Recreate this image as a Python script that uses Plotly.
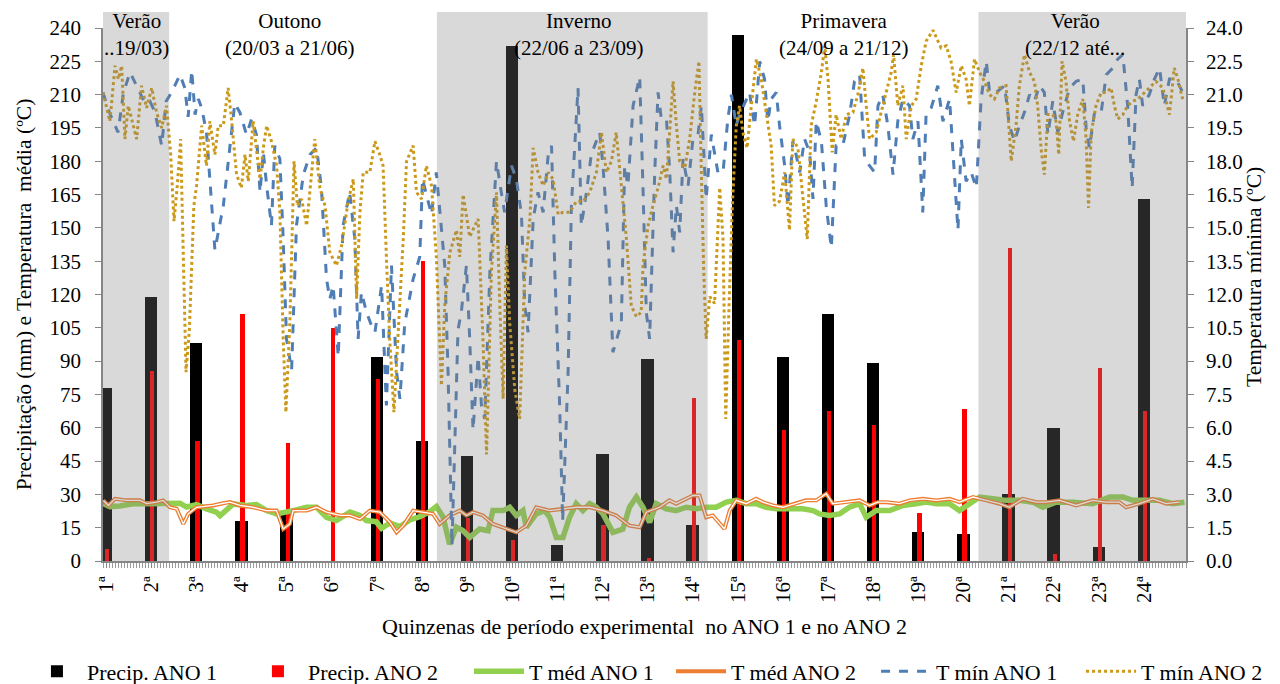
import plotly.graph_objects as go

# ---------------- DATA ----------------
quinzenas = [f"{i}ª" for i in range(1, 25)]
q_day = [1 + 15 * i for i in range(24)]  # day of each quinzena label

precip_ano1 = [78, 119, 98, 18, 22, 0, 92, 54, 47.5, 232, 7, 48, 91, 16,
               237, 92, 111, 89, 13, 12, 30, 60, 6.4, 163]
precip_ano2 = [5.5, 85.5, 54, 111, 53, 105, 82, 135, 19.4, 9.4, 0, 16, 1.5, 73.5,
               99.5, 59, 67.7, 61.4, 21.4, 68.6, 141, 3.3, 87, 67.4]

tmin1_day = [0, 1.8, 5, 6.8, 9, 11.2, 14, 15.6, 17.3, 19.5, 21, 22.8, 25.6, 27.2, 28.3, 29.5, 30.6, 31.7,
             32.8, 34.4, 37.2, 40, 42.2, 43.8, 45.5, 47.7, 49.4, 51, 52.2, 53.3, 54.4, 56, 57.1, 58.8,
             59.9, 61, 62.7, 64.3, 66.6, 68.8, 71, 72.6, 74.3, 75.4, 76.5, 78.2, 79.8, 82, 83.7, 84.8,
             85.9, 87.6, 89.8, 90.4, 92.6, 94.2, 95.9, 97.6, 98.7, 100.3, 103.1, 105.3, 106.2, 107.5,
             109.2, 110.8, 112.5, 113.6, 114.7, 116, 118, 119.1, 120.8, 121.9, 123, 124.7, 125.8, 126.9,
             128.6, 130.8, 132.4, 133.5, 135.8, 137.4, 139.1, 140.2, 141.3, 143, 144.6, 146.3, 148,
             149.1, 150.2, 151.8, 152.8, 154.6, 155.7, 157.9, 159, 160.7, 162.3, 165.1, 166.2, 167.9,
             169.5, 172.3, 173.4, 174.5, 176.2, 178.4, 179.5, 180.6, 181.7, 183.4, 184.5, 185.6, 187.3,
             188.4, 189.5, 190.6, 191.7, 192.8, 194.5, 196.1, 197.8, 198.9, 200.5, 202.2, 204.4, 206.1,
             207.7, 208.9, 210.5, 211.6, 214.9, 216.6, 218.3, 219.9, 221, 222.1, 223.8, 224.9, 226.6,
             227.7, 229.3, 230.4, 231.6, 233.2, 234.9, 236, 237.1, 238.8, 240.4, 242.1, 243.7, 245.9,
             248.2, 249.8, 251.5, 253.2, 254.8, 256.5, 257.6, 259.2, 260.9, 262.6, 264.2, 265.9, 268.1,
             269.2, 270.9, 272.5, 273.6, 275.3, 277.5, 279.2, 281.4, 283.1, 284.2, 285.3, 286.9, 288.6,
             290.3, 291.9, 293.6, 294.7, 296.9, 299.7, 301.3, 303, 304.6, 306.3, 308, 309.6, 311.3,
             312.9, 314.1, 315.7, 317.4, 319, 321.3, 323.5, 325.7, 326.8, 327.9, 329.6, 331.8, 333.5,
             335.7, 337.3, 339, 340.6, 342.1, 343.4, 344.5, 345.6, 347.8, 349.5, 351.2, 352.8, 354.5,
             356.7, 358.9]
tmin1_val = [21.1, 20.3, 19.3, 21.1, 22.0, 21.4, 20.6, 20.7, 20.2, 18.7, 20.7, 21.1, 21.9, 21.3, 20.0, 22.1,
             20.1, 20.8, 20.4, 19.3, 14.0, 16.0, 18.7, 20.6, 20.2, 19.2, 19.9, 19.2, 16.6, 18.4, 16.9,
             15.1, 18.7, 18.1, 14.5, 10.0, 8.6, 15.1, 17.4, 18.3, 18.6, 16.8, 12.7, 11.8, 12.4, 9.2,
             15.1, 16.6, 14.5, 10.0, 12.1, 11.2, 10.4, 10.3, 12.4, 7.0, 13.3, 8.5, 7.3, 10.7, 12.7,
             13.7, 17.2, 16.5, 15.6, 17.5, 15.1, 13.3, 8.5, 0.7, 10.4, 11.2, 13.3, 10.0, 5.9, 9.2, 7.0,
             6.4, 13.0, 18.0, 16.6, 15.7, 17.8, 17.2, 15.6, 11.5, 10.3, 15.4, 16.6, 15.7, 18.3, 18.7,
             13.0, 7.0, 1.8, 8.5, 16.0, 21.3, 15.1, 16.6, 18.3, 19.3, 17.8, 14.5, 9.4, 10.7, 17.8, 16.9,
             20.5, 21.8, 16.8, 11.2, 10.0, 17.5, 21.1, 19.9, 19.9, 17.5, 13.9, 16.0, 14.8, 18.1, 16.9,
             19.0, 19.2, 20.5, 16.3, 19.2, 17.5, 17.5, 19.9, 21.0, 19.6, 20.1, 21.1, 19.6, 22.5, 21.7,
             19.8, 20.8, 21.1, 19.6, 17.8, 16.0, 18.9, 18.3, 17.5, 19.0, 18.4, 16.3, 19.8, 18.9, 16.0,
             14.1, 18.7, 18.7, 20.1, 21.6, 21.9, 18.1, 17.8, 17.5, 20.5, 21.0, 19.6, 17.4, 19.8, 20.8,
             20.5, 19.0, 19.8, 15.7, 20.1, 20.4, 21.4, 19.8, 20.8, 17.5, 14.9, 19.0, 17.1, 17.5, 16.8,
             20.8, 22.5, 21.1, 21.1, 21.4, 19.6, 18.9, 19.6, 20.2, 21.0, 20.7, 21.4, 21.1, 19.2, 20.7,
             19.3, 20.2, 21.3, 21.6, 21.7, 19.5, 18.6, 20.2, 20.2, 21.9, 22.2, 22.6, 22.8, 20.5, 16.8,
             21.0, 21.7, 20.5, 21.0, 21.7, 22.2, 20.5, 21.7, 21.7, 21.1]

tmin2_day = [0, 2.3, 4, 5.1, 6.2, 7.3, 8.4, 10.1, 11.2, 12.8, 14.5, 16.2, 17.8, 19.5, 21.1, 22.5, 23.6, 24.7,
             25.8, 26.7, 27.6, 28.7, 30.2, 31.1, 32.8, 34.4, 35.5, 37.2, 38.3, 40, 41.6, 42.7, 44.4, 46,
             47.2, 48.3, 49.9, 52.2, 53.3, 54.4, 56, 57.7, 58.8, 59.9, 60.8, 62.1, 63.5, 64.6, 66, 67.7,
             69.3, 70.4, 72.1, 73.8, 75.4, 77.6, 79.3, 81.5, 83.2, 84.3, 85.4, 86.5, 88.7, 90.4, 92,
             93.1, 94.2, 95.3, 96.7, 98.1, 99.8, 100.9, 103.1, 104.2, 105.9, 107.5, 109.2, 110.8, 112.5,
             113.6, 115.3, 117.5, 118.6, 119.7, 121.9, 123.6, 124.7, 126.3, 127.5, 129.1, 130.8, 131.9,
             133, 134.1, 135.2, 136.9, 138.5, 140.2, 141.9, 143, 144.6, 146.3, 148, 149.6, 151.3, 152.9,
             155.1, 157.4, 159.6, 161.8, 164, 165.7, 167.3, 169, 170.6, 172.3, 174, 175.6, 177.3, 178.9,
             179.5, 181.2, 182.8, 184.5, 186.2, 187.3, 188.4, 189.5, 190.6, 191.7, 193.4, 195, 196.7,
             198.1, 198.9, 199.7, 200.5, 201.7, 203.3, 205, 206.1, 207, 208.1, 209.2, 210.5, 211.6,
             212.7, 214.1, 215.5, 217.2, 218.8, 220.5, 222.1, 223.2, 224.9, 226.6, 228.2, 229.3, 231,
             232.7, 234.1, 235.4, 237.1, 238.8, 239.9, 241, 242.4, 243.7, 245.4, 247.1, 249.3, 250.9,
             252.6, 253.7, 254.8, 257, 258.7, 260.3, 262, 262.8, 264.2, 265.9, 267, 268.7, 270.3, 272,
             273.6, 275.9, 278.6, 280.3, 281.9, 283.6, 285.3, 286.9, 288, 289.7, 291.4, 293, 294.7,
             296.3, 298, 300.2, 301.9, 303.5, 304.6, 306.3, 308, 309.6, 310.7, 311.8, 312.9, 314.1,
             315.7, 316.8, 317.7, 318.8, 320.1, 321.3, 322.6, 324, 325.7, 326.8, 327.6, 328.5, 330.1,
             331.8, 333.5, 335.1, 336.2, 337.3, 339, 340.6, 342.3, 344, 345.6, 347.8, 350, 352.3, 354.5,
             356.1, 357.3, 358.9]
tmin2_val = [21.1, 19.8, 22.3, 21.7, 22.3, 19.0, 20.5, 19.6, 19.0, 21.4, 20.4, 21.3, 20.2, 19.5, 20.5, 18.3,
             15.3, 16.9, 19.0, 13.7, 8.5, 10.4, 16.0, 16.9, 19.6, 17.8, 19.8, 18.3, 19.6, 19.6, 21.3,
             19.9, 17.4, 16.8, 18.3, 17.1, 19.8, 17.2, 18.6, 19.6, 18.9, 17.8, 15.7, 10.0, 6.7, 10.7,
             18.0, 16.0, 16.3, 15.1, 17.5, 19.0, 16.8, 16.0, 13.9, 13.3, 14.2, 16.2, 17.2, 11.8, 15.7,
             17.5, 17.5, 18.9, 18.3, 17.8, 13.7, 10.0, 6.7, 10.0, 14.5, 18.0, 18.7, 16.6, 16.3, 17.8,
             16.9, 13.7, 7.9, 11.5, 13.9, 14.9, 13.7, 16.5, 14.6, 15.1, 15.4, 10.0, 4.8, 13.0, 16.6,
             11.5, 7.3, 14.2, 10.7, 7.7, 6.4, 13.0, 15.4, 18.6, 17.5, 16.9, 17.5, 17.2, 15.6, 15.7,
             15.7, 16.2, 16.2, 16.6, 17.5, 19.3, 17.5, 18.0, 19.3, 16.9, 14.5, 11.5, 11.0, 11.2, 13.3,
             15.1, 16.0, 16.8, 17.8, 17.2, 19.3, 21.6, 19.6, 18.0, 17.7, 19.0, 21.1, 22.5, 17.5, 13.0,
             10.0, 11.9, 11.6, 16.8, 14.5, 6.4, 11.5, 16.0, 19.6, 20.5, 19.3, 18.6, 20.5, 22.6, 21.7,
             20.1, 18.7, 16.0, 16.2, 17.5, 14.9, 19.0, 18.6, 16.3, 14.5, 19.6, 20.7, 22.0, 23.2, 21.7,
             18.4, 20.1, 19.0, 20.1, 20.2, 21.0, 22.2, 20.5, 19.0, 19.3, 20.2, 21.1, 22.0, 22.8, 20.5,
             21.4, 19.0, 20.5, 20.8, 22.3, 23.4, 23.9, 23.1, 23.2, 22.5, 21.1, 22.3, 21.7, 20.5, 22.6,
             22.0, 21.6, 21.0, 20.8, 21.3, 21.4, 18.0, 19.6, 21.4, 22.8, 22.0, 21.6, 20.5, 18.6, 17.4,
             20.1, 20.1, 19.8, 18.3, 22.5, 21.6, 19.8, 18.9, 20.1, 20.8, 19.0, 15.9, 19.3, 20.5, 21.1,
             21.1, 21.3, 20.5, 19.9, 20.1, 20.5, 20.7, 20.8, 21.0, 21.3, 21.6, 21.3, 20.1, 22.2, 21.7,
             20.8]

tmed1_day = [0.1, 2.3, 5.6, 10, 14.5, 18.9, 22.2, 25.6, 27.8, 31.1, 34.4, 37.7, 38.9, 43.3, 47.7, 51, 54.4,
             57.7, 63.2, 67.7, 71, 74.3, 77.6, 82.1, 85.4, 87.6, 90.8, 92.6, 95.4, 98.7, 102, 105.3,
             108.6, 110.8, 113, 115.2, 117.5, 119.7, 121.9, 125.2, 128, 129.6, 133, 135.2, 137.4, 139.6,
             140.7, 144, 146.8, 148.5, 150.7, 152.9, 155.1, 157.3, 159.5, 161.8, 164, 166.2, 169.5,
             172.8, 175, 177.3, 179.5, 181.7, 183.9, 187.2, 190.5, 193.9, 197.2, 200.5, 203.8, 207.2,
             210.5, 213.8, 217.1, 220.4, 223.8, 228.2, 232.6, 236, 238.2, 241.5, 244.8, 248.1, 251.5,
             253.7, 257, 261.5, 265.9, 270.3, 273.6, 277, 281.4, 284.7, 288, 291.4, 295.8, 300.2, 304.7,
             309.1, 312.4, 316.8, 322.4, 329, 334.6, 339, 342.3, 346.7, 351.2, 355.6, 359.5]
tmed1_val = [25.8, 24.5, 24.8, 25.8, 25.8, 25.7, 26.0, 26.0, 24.3, 25.4, 23.5, 22.0, 20.4, 25.7, 25.0, 25.4,
             22.7, 21.2, 22.7, 24.2, 24.2, 19.7, 18.2, 22.0, 20.5, 18.2, 17.7, 14.7, 17.1, 15.5, 18.5,
             20.0, 22.2, 24.5, 20.0, 7.6, 15.2, 13.6, 10.6, 14.4, 13.6, 22.7, 22.7, 24.2, 20.5, 22.7,
             15.2, 21.2, 22.7, 19.7, 10.6, 10.6, 19.7, 25.8, 22.7, 25.8, 24.2, 21.2, 12.9, 14.4, 24.2,
             28.8, 24.2, 17.4, 25.8, 23.5, 22.7, 24.2, 23.5, 24.2, 24.2, 26.5, 27.3, 25.8, 25.8, 24.2,
             23.5, 23.5, 23.5, 22.7, 21.2, 20.5, 21.2, 24.2, 25.8, 19.7, 22.7, 22.7, 25.0, 25.8, 26.5,
             25.8, 25.8, 22.7, 25.8, 28.8, 28.0, 27.3, 27.3, 26.5, 24.2, 26.5, 26.5, 25.8, 28.8, 28.8,
             27.3, 27.3, 27.3, 25.8, 26.5]

tmed2_day = [0.1, 1.8, 4, 7.8, 12.3, 14.5, 17.8, 20, 22.2, 24.5, 26.7, 28.3, 31.1, 36.6, 40, 42.2, 45.5,
             49.9, 54.4, 57.7, 59.9, 62.1, 63.2, 67.7, 71, 74.3, 78.8, 82.1, 85.4, 88.7, 92, 95.4, 97.6,
             99.8, 103.1, 106.4, 109.7, 111.9, 115.2, 118.6, 120.8, 123, 126.3, 129.6, 134, 137.4, 140.7,
             144, 148.5, 152.9, 157.3, 161.8, 166.2, 170.6, 175, 178.4, 180.6, 185, 188.3, 190.5, 192.8,
             196.1, 198.3, 200.5, 202.7, 205, 206.6, 208.3, 210.5, 213.8, 217.1, 219.3, 222.7, 226,
             230.4, 233.7, 237.1, 240.4, 242.6, 247, 251.5, 254.8, 257.5, 260.4, 264.8, 268.1, 272.5,
             277, 281.4, 284.7, 289.2, 293.6, 298, 301.3, 305.8, 310.2, 313.5, 318, 323.5, 329, 333.4,
             337.9, 340.1, 344.5, 349, 353.4, 357.8]
tmed2_val = [27.3, 25.0, 28.0, 27.3, 27.3, 25.8, 26.5, 27.3, 24.2, 23.5, 16.7, 21.2, 24.2, 25.0, 26.0, 26.5,
             25.0, 24.2, 22.7, 22.7, 14.4, 16.7, 22.7, 22.7, 24.2, 22.0, 20.5, 20.5, 18.9, 22.7, 22.0,
             17.4, 12.9, 15.9, 22.7, 22.0, 21.2, 16.7, 20.5, 22.7, 20.5, 22.0, 20.5, 16.7, 14.4, 12.9,
             15.9, 24.2, 22.7, 23.5, 24.2, 24.2, 22.7, 20.5, 15.9, 15.2, 22.0, 24.2, 27.3, 25.8, 27.3,
             29.5, 29.5, 19.7, 20.5, 16.7, 14.4, 22.7, 27.3, 25.8, 28.0, 26.5, 25.0, 24.2, 25.8, 27.3,
             27.3, 30.3, 25.8, 26.5, 27.3, 25.0, 26.5, 26.5, 25.8, 27.3, 28.0, 27.3, 28.0, 26.5, 28.8,
             27.3, 25.8, 24.2, 28.0, 26.5, 26.5, 27.3, 25.0, 27.3, 26.5, 26.5, 24.2, 25.8, 28.0, 25.8,
             26.5]

# (label, start day, end day, shaded, label centre day)
seasons = [
    ("Verão<br>..19/03)", 0, 22, True, 11),
    ("Outono<br>(20/03 a 21/06)", 22, 111, False, 62),
    ("Inverno<br>(22/06 a 23/09)", 111, 201, True, 158),
    ("Primavera<br>(24/09 a 21/12)", 201, 291, False, 246),
    ("Verão<br>(22/12 até...", 291, 360, True, 323),
]

FONT = "'Liberation Serif', 'Times New Roman', 'DejaVu Serif', serif"

fig = go.Figure()

fig.add_trace(go.Bar(x=q_day, y=precip_ano1, name="Precip. ANO 1", marker=dict(color="#000000", line=dict(width=0)),
                     width=4.1, yaxis="y", legend="legend"))
fig.add_trace(go.Bar(x=q_day, y=precip_ano2, name="Precip. ANO 2", marker=dict(color="#FF0000", line=dict(width=0)),
                     width=1.4, offset=-0.3, yaxis="y", legend="legend"))

fig.add_trace(go.Scatter(x=tmed1_day, y=tmed1_val, name="T méd ANO 1", mode="lines",
                         line=dict(color="#92D050", width=5.5), yaxis="y", legend="legend"))
fig.add_trace(go.Scatter(x=tmed2_day, y=tmed2_val, name="T méd ANO 2", mode="lines",
                         line=dict(color="#ED7D31", width=4), yaxis="y", legend="legend2"))
fig.add_trace(go.Scatter(x=tmed2_day, y=tmed2_val, name="T méd ANO 2", mode="lines", showlegend=False,
                         line=dict(color="#FFFFFF", width=1.3), yaxis="y", hoverinfo="skip"))
fig.add_trace(go.Scatter(x=tmin1_day, y=tmin1_val, name="T mín ANO 1", mode="lines",
                         line=dict(color="#4F7DB5", width=3, dash="dash"), yaxis="y2", legend="legend2"))
fig.add_trace(go.Scatter(x=tmin2_day, y=tmin2_val, name="T mín ANO 2", mode="lines",
                         line=dict(color="#CC9A1A", width=3, dash="dot"), yaxis="y2", legend="legend2"))

shapes = []
annotations = []
for label, d0, d1, shaded, dc in seasons:
    if shaded:
        shapes.append(dict(type="rect", xref="x", yref="paper", x0=d0, x1=d1, y0=0, y1=1.03,
                           fillcolor="rgba(128,128,128,0.3)", line=dict(width=0), layer="above"))
    annotations.append(dict(x=dc, xref="x", y=1.04, yref="paper", yanchor="top",
                            text=label, showarrow=False, font=dict(family=FONT, size=21, color="#000")))

# right-hand axis title (placed as text so it sits where the original has it)
annotations.append(dict(x=1.0757, xref="paper", y=0.533, yref="paper", textangle=-90,
                        text="Temperatura mínima (ºC)", showarrow=False,
                        font=dict(family=FONT, size=21.5, color="#000")))

axis_common = dict(showline=True, linecolor="#868686", linewidth=1.5, showgrid=False, zeroline=False,
                   ticks="outside", tickcolor="#868686", automargin=False,
                   tickfont=dict(family=FONT, size=21, color="#000"))

legend_common = dict(orientation="h", xref="container", xanchor="left", y=0.03, yref="container",
                     yanchor="middle", font=dict(family=FONT, size=22, color="#000"),
                     entrywidthmode="pixels", itemwidth=50, tracegroupgap=0, bgcolor="rgba(0,0,0,0)")

# the page body adds an 8px offset: margins below are compensated for it
fig.update_layout(
    width=1280, height=684,
    margin=dict(l=95, r=102, t=20, b=131, autoexpand=False),
    paper_bgcolor="white", plot_bgcolor="white",
    barmode="overlay", bargap=0,
    font=dict(family=FONT, size=21, color="#000"),
    shapes=shapes, annotations=annotations,
    showlegend=True,
    legend=dict(x=0.0148, entrywidth=156, **legend_common),
    legend2=dict(x=0.518, entrywidth=140, **legend_common),
    xaxis=dict(range=[0, 360], tickmode="array", tickvals=q_day, ticktext=quinzenas, tickangle=-90,
               ticklen=5, **axis_common,
               minor=dict(tickmode="linear", tick0=0, dtick=1, ticks="outside", ticklen=5, tickcolor="#9a9a9a"),
               title=dict(text="Quinzenas de período experimental  no ANO 1 e no ANO 2", standoff=17,
                          font=dict(family=FONT, size=22))),
    yaxis=dict(range=[0, 240], tickmode="linear", tick0=0, dtick=15, ticklen=6, ticklabelstandoff=10,
               **axis_common,
               title=dict(text="Precipitação (mm) e Temperatura  média (ºC)", standoff=12,
                          font=dict(family=FONT, size=21.5))),
    yaxis2=dict(range=[0, 24], overlaying="y", side="right", tickmode="linear", tick0=0, dtick=1.5,
                tickformat=".1f", ticklen=6, ticklabelstandoff=8, **axis_common),
)

fig.write_html("out.html")
